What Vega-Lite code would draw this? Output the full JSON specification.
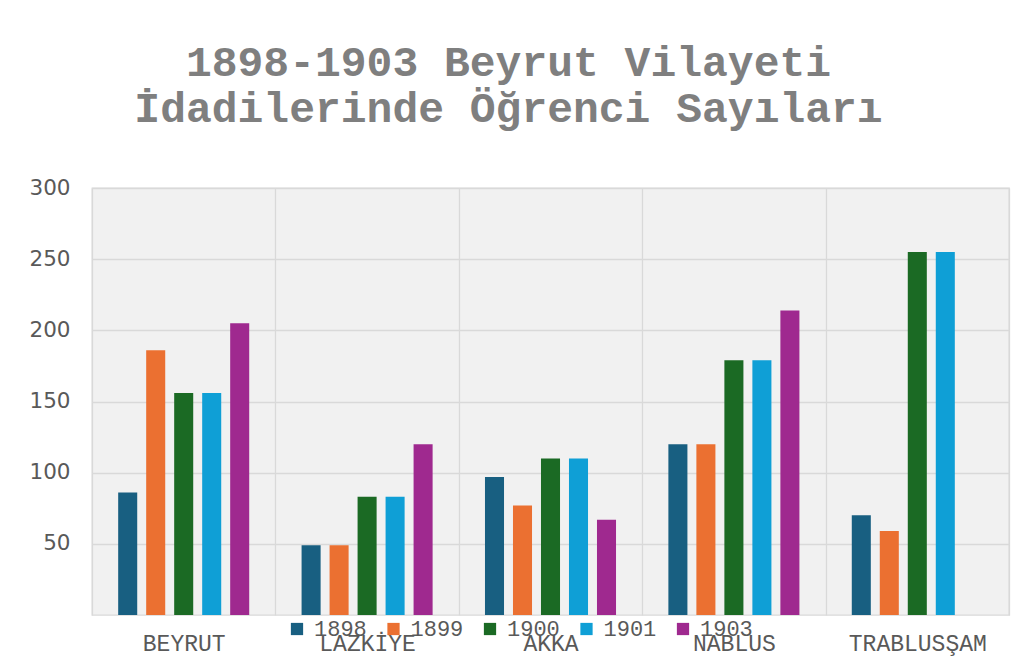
{
  "$schema": "https://vega.github.io/schema/vega-lite/v6.json",
  "autosize": "none",
  "width": 917,
  "height": 427,
  "padding": {"left": 92, "top": 188, "right": 10, "bottom": 49},
  "background": "white",
  "title": {
    "text": ["1898-1903 Beyrut Vilayeti", "İdadilerinde Öğrenci Sayıları"],
    "font": "Liberation Mono",
    "fontWeight": "bold",
    "fontSize": 43,
    "color": "#7f7f7f",
    "lineHeight": 46,
    "anchor": "middle",
    "dx": -42,
    "offset": 46
  },
  "data": {
    "values": [
      {"il": "BEYRUT", "yil": "1898", "sayi": 86},
      {"il": "BEYRUT", "yil": "1899", "sayi": 186},
      {"il": "BEYRUT", "yil": "1900", "sayi": 156},
      {"il": "BEYRUT", "yil": "1901", "sayi": 156},
      {"il": "BEYRUT", "yil": "1903", "sayi": 205},
      {"il": "LAZKİYE", "yil": "1898", "sayi": 49},
      {"il": "LAZKİYE", "yil": "1899", "sayi": 49},
      {"il": "LAZKİYE", "yil": "1900", "sayi": 83},
      {"il": "LAZKİYE", "yil": "1901", "sayi": 83},
      {"il": "LAZKİYE", "yil": "1903", "sayi": 120},
      {"il": "AKKA", "yil": "1898", "sayi": 97},
      {"il": "AKKA", "yil": "1899", "sayi": 77},
      {"il": "AKKA", "yil": "1900", "sayi": 110},
      {"il": "AKKA", "yil": "1901", "sayi": 110},
      {"il": "AKKA", "yil": "1903", "sayi": 67},
      {"il": "NABLUS", "yil": "1898", "sayi": 120},
      {"il": "NABLUS", "yil": "1899", "sayi": 120},
      {"il": "NABLUS", "yil": "1900", "sayi": 179},
      {"il": "NABLUS", "yil": "1901", "sayi": 179},
      {"il": "NABLUS", "yil": "1903", "sayi": 214},
      {"il": "TRABLUSŞAM", "yil": "1898", "sayi": 70},
      {"il": "TRABLUSŞAM", "yil": "1899", "sayi": 59},
      {"il": "TRABLUSŞAM", "yil": "1900", "sayi": 255},
      {"il": "TRABLUSŞAM", "yil": "1901", "sayi": 255},
      {"il": "TRABLUSŞAM", "yil": "1903", "sayi": null}
    ]
  },
  "mark": {"type": "bar"},
  "encoding": {
    "x": {
      "field": "il",
      "type": "nominal",
      "sort": null,
      "scale": {"paddingInner": 0, "paddingOuter": 0},
      "axis": {
        "title": null,
        "labelAngle": 0,
        "labelFont": "Liberation Mono",
        "labelFontSize": 23,
        "labelColor": "#595959",
        "labelPadding": 17,
        "domain": false,
        "ticks": false,
        "grid": true,
        "tickBand": "extent",
        "gridColor": "#d9d9d9",
        "gridWidth": 1.3
      }
    },
    "xOffset": {
      "field": "yil",
      "type": "nominal",
      "scale": {"paddingInner": 0.32, "paddingOuter": 0.935}
    },
    "y": {
      "field": "sayi",
      "type": "quantitative",
      "scale": {"domain": [0, 300], "nice": false},
      "axis": {
        "title": null,
        "values": [50, 100, 150, 200, 250, 300],
        "labelFont": "DejaVu Sans",
        "labelFontSize": 21.5,
        "labelColor": "#595959",
        "labelPadding": 22,
        "domain": false,
        "ticks": false,
        "gridColor": "#d9d9d9",
        "gridWidth": 1.3
      }
    },
    "color": {
      "field": "yil",
      "type": "nominal",
      "scale": {
        "domain": ["1898", "1899", "1900", "1901", "1903"],
        "range": ["#185f81", "#eb7031", "#1b6a24", "#0f9fd6", "#9f298f"]
      },
      "legend": {
        "title": null,
        "orient": "none",
        "legendX": 194,
        "legendY": 430,
        "direction": "horizontal",
        "symbolType": "square",
        "symbolSize": 150,
        "symbolStrokeWidth": 0,
        "symbolOpacity": 1,
        "labelFont": "Liberation Mono",
        "labelFontSize": 22,
        "labelColor": "#595959",
        "labelOffset": 6,
        "columnPadding": 15.5
      }
    }
  },
  "config": {
    "view": {"fill": "#f1f1f1", "stroke": "#d9d9d9", "strokeWidth": 1.3}
  }
}
